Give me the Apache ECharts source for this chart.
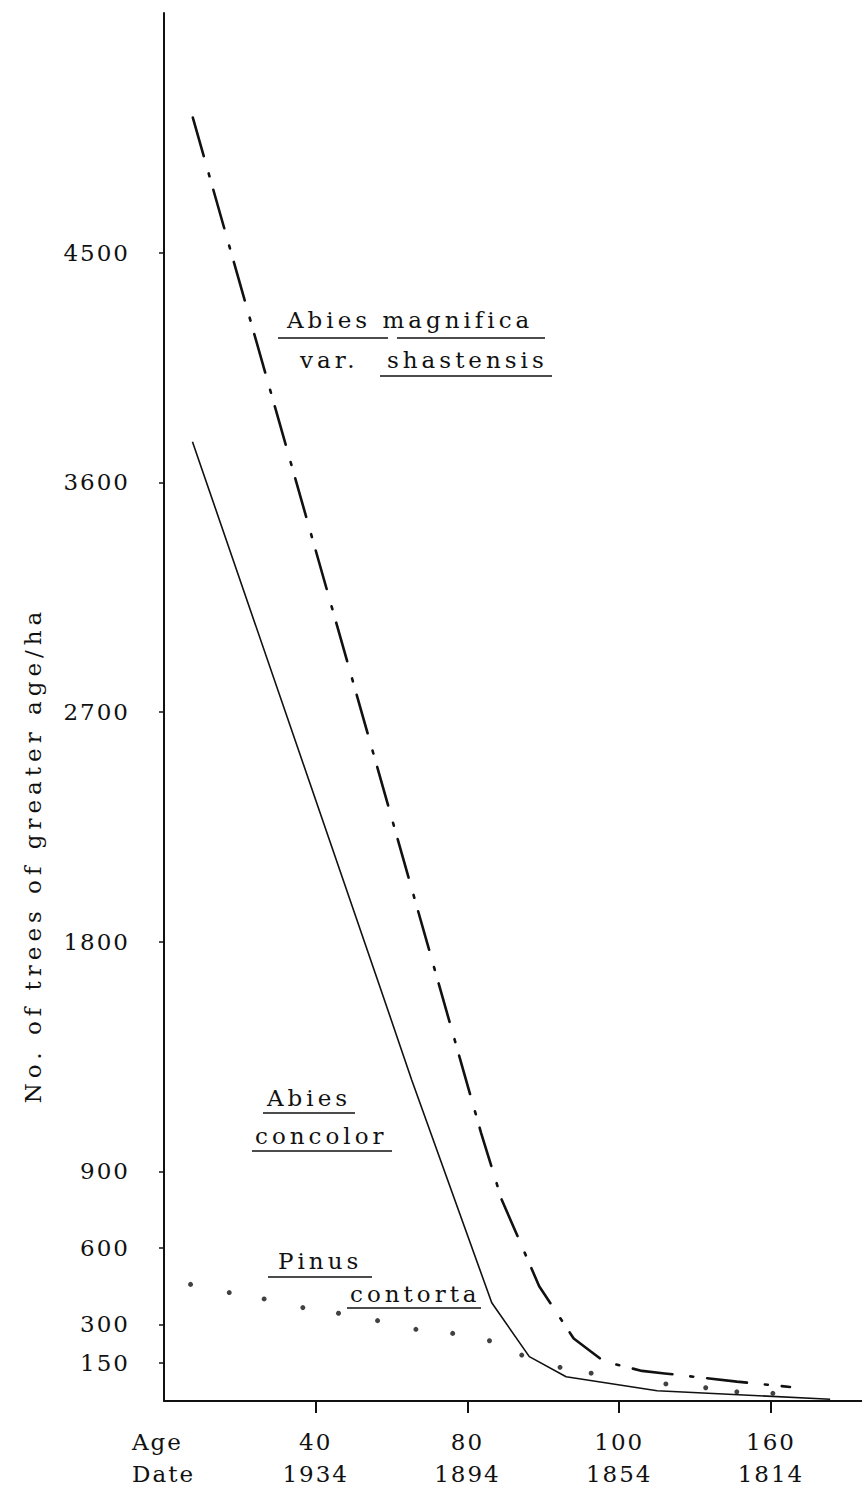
<!DOCTYPE html>
<html>
<head>
<meta charset="utf-8">
<script src="https://cdn.jsdelivr.net/npm/echarts@6/dist/echarts.min.js"></script>
<style>
html,body{margin:0;padding:0;background:#fff;}
#chart{width:862px;height:1494px;}
#chart text{letter-spacing:2px;}
</style>
</head>
<body>
<div id="chart"></div>
<script>
// ---- data ----
const yTickValues = [150, 300, 600, 900, 1800, 2700, 3600, 4500];
const xTickAges = [40, 80, 120, 160];
const xAgeLabels = ['40', '80', '100', '160'];
const xDateLabels = ['1934', '1894', '1854', '1814'];

const magnificaAge   = [7.6, 83.6, 89, 98.9, 108, 112, 116, 126, 132, 151, 165];
const magnificaCount = [5030, 1050, 790, 450, 245, 200, 155, 118, 108, 76, 55];

const concolorAge   = [7.5, 57, 65.3, 86.4, 96.3, 106, 130, 175.6];
const concolorCount = [3760, 1620, 1258, 385, 174, 95, 40, 7];

const contortaAge   = [7.0, 17.2, 26.4, 36.6, 46.0, 56.3, 66.4, 76.1, 85.8, 94.3, 104.4, 112.6, 132.3, 142.8, 151, 160.5];
const contortaCount = [457, 425, 400, 366, 344, 315, 281, 265, 236, 180, 132, 109, 67, 52, 36, 30];

const yTitle = 'No. of trees of greater age/ha';
const speciesTexts = ['Abies magnifica', 'var.', 'shastensis', 'Abies', 'concolor', 'Pinus', 'contorta'];

// ---- build ----
const pairs = (a, b) => a.map((v, i) => [v, b[i]]);
const FONT = '23px "DejaVu Serif"';
const INK = '#111';

// annotation layout (pixels)
const labelPos = [
  { t: 'Abies magnifica', x: 287, y: 320 },
  { t: 'var.', x: 300, y: 360 },
  { t: 'shastensis', x: 387, y: 360 },
  { t: 'Abies', x: 267, y: 1098 },
  { t: 'concolor', x: 255, y: 1136 },
  { t: 'Pinus', x: 278, y: 1261 },
  { t: 'contorta', x: 350, y: 1294 }
];
const underlines = [
  [338, 278, 388], [338, 397, 545], [376, 380, 552],
  [1113, 263, 355], [1151, 252, 392],
  [1277, 268, 372], [1308, 347, 481]
];

const graphic = [];
labelPos.forEach(l => graphic.push({
  type: 'text', x: l.x, y: l.y, z: 10,
  style: { text: l.t, font: FONT, fill: INK, align: 'left', verticalAlign: 'middle' }
}));
underlines.forEach(u => graphic.push({
  type: 'line', z: 10,
  shape: { x1: u[1], y1: u[0], x2: u[2], y2: u[0] },
  style: { stroke: INK, lineWidth: 1.6 }
}));
graphic.push({
  type: 'text', x: 33, y: 855, rotation: Math.PI / 2, z: 10,
  style: { text: yTitle, font: FONT, fill: INK, align: 'center', verticalAlign: 'middle' }
});
graphic.push({
  type: 'text', x: 132, y: 1442, z: 10,
  style: { text: 'Age', font: FONT, fill: INK, align: 'left', verticalAlign: 'middle' }
});
graphic.push({
  type: 'text', x: 132, y: 1474, z: 10,
  style: { text: 'Date', font: FONT, fill: INK, align: 'left', verticalAlign: 'middle' }
});

const chart = echarts.init(document.getElementById('chart'), null, { renderer: 'svg' });
chart.setOption({
  animation: false,
  backgroundColor: '#fff',
  grid: { left: 164, right: 0, top: 13, bottom: 93, containLabel: false },
  xAxis: {
    type: 'value', min: 0, max: 184,
    axisLine: { show: true, lineStyle: { color: INK, width: 2 } },
    axisTick: { show: true, customValues: xTickAges, length: 12, inside: false, lineStyle: { color: INK, width: 2 } },
    axisLabel: {
      show: true, customValues: xTickAges, margin: 25, lineHeight: 32,
      fontFamily: 'DejaVu Serif', fontSize: 23, color: INK,
      formatter: v => { const i = xTickAges.indexOf(v); return i < 0 ? '' : xAgeLabels[i] + '\n' + xDateLabels[i]; }
    },
    splitLine: { show: false }
  },
  yAxis: {
    type: 'value', min: 0, max: 5440,
    axisLine: { show: true, lineStyle: { color: INK, width: 2 } },
    axisTick: { show: true, customValues: yTickValues, length: 5, lineStyle: { color: INK, width: 1.5 } },
    axisLabel: {
      show: true, customValues: yTickValues, margin: 34, padding: [8, 0, 0, 0],
      fontFamily: 'DejaVu Serif', fontSize: 23, color: INK,
      formatter: v => String(v)
    },
    splitLine: { show: false }
  },
  graphic: graphic,
  series: [
    {
      name: 'Abies magnifica var. shastensis', type: 'line', data: pairs(magnificaAge, magnificaCount),
      showSymbol: false, symbol: 'none', silent: true,
      lineStyle: { color: INK, width: 2.6, type: [40, 18, 3, 14], cap: 'round' }
    },
    {
      name: 'Abies concolor', type: 'line', data: pairs(concolorAge, concolorCount),
      showSymbol: false, symbol: 'none', silent: true,
      lineStyle: { color: INK, width: 1.6, type: 'solid' }
    },
    {
      name: 'Pinus contorta', type: 'scatter', data: pairs(contortaAge, contortaCount),
      symbol: 'circle', symbolSize: 5, silent: true,
      itemStyle: { color: INK }
    }
  ]
});

function applySpacing() {
  document.querySelectorAll('#chart text').forEach(t => {
    const s = (t.textContent || '').trim();
    if (speciesTexts.indexOf(s) >= 0) t.style.letterSpacing = '4px';
    else if (s === yTitle) t.style.letterSpacing = '5px';
  });
}
chart.on('finished', applySpacing);
applySpacing();
setTimeout(applySpacing, 50);
</script>
</body>
</html>
